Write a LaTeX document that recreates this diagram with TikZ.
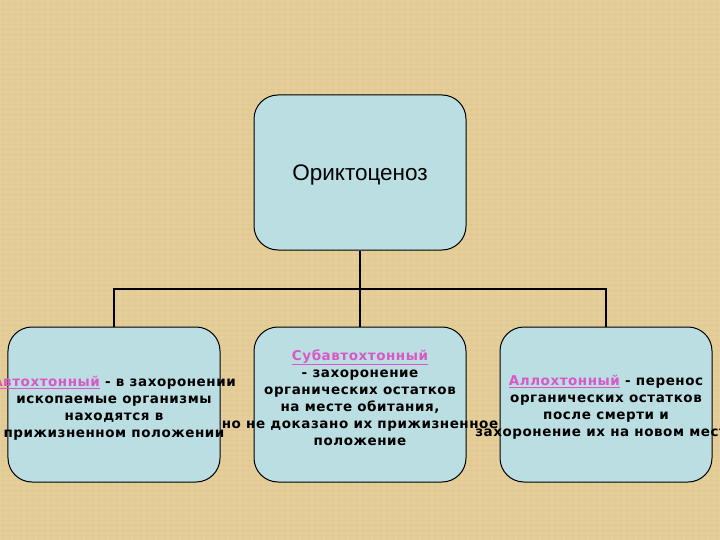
\documentclass[tikz,border=0pt]{standalone}
\usepackage{fontspec}
\setmainfont{DejaVu Sans}
\newfontfamily\headfont{Liberation Sans}
\newfontfamily\bodyfont[LetterSpace=4]{DejaVu Sans Bold}
\usetikzlibrary{positioning}
\definecolor{bgcol}{RGB}{228,204,150}
\definecolor{boxcol}{RGB}{186,222,226}
\definecolor{pinkw}{RGB}{216,88,200}
\newcommand{\kw}[1]{\textcolor{pinkw}{\underline{#1}}}
\begin{document}
\begin{tikzpicture}[x=1bp,y=-1bp,
  card/.style={draw=black,line width=1bp,fill=boxcol,rounded corners=24bp,minimum width=212bp,minimum height=155bp,inner sep=0pt},
  bodytxt/.style={align=center,font=\bodyfont\fontsize{13.5bp}{17bp}\selectfont,text=black,inner sep=0pt},
  link/.style={draw=black,line width=1.5bp}]
\useasboundingbox (0,0) rectangle (720,540);
\fill[bgcol] (0,0) rectangle (720,540);
\foreach \i in {0,6,...,720}{\draw[white,opacity=0.07,line width=1.5bp] (\i,0) -- (\i,540);}
\foreach \j in {0,5,...,540}{\draw[brown,opacity=0.06,line width=1bp] (0,\j) -- (720,\j);}
\node[card] (top) at (360,172.5) {};
\node[card] (left) at (114,404.5) {};
\node[card] (mid) at (360,404.5) {};
\node[card] (right) at (606,404.5) {};
\node[font=\headfont\fontsize{22.5bp}{26bp}\selectfont] (toptxt) at (360,175) {Ориктоценоз};
\coordinate (bar) at (360,289);
\draw[link] (top.south) -- (bar);
\draw[link] (left.north) |- (bar) -| (right.north);
\draw[link] (bar) -- (mid.north);
\node[bodytxt] (ltxt) at (114,408) {\kw{Автохтонный} - в захоронении\\ископаемые организмы\\находятся в\\прижизненном положении};
\node[bodytxt] (mtxt) at (360,397.5) {\kw{Субавтохтонный}\\- захоронение\\органических остатков\\на месте обитания,\\но не доказано их прижизненное\\положение};
\node[bodytxt] (rtxt) at (606,407) {\kw{Аллохтонный} - перенос\\органических остатков\\после смерти и\\захоронение их на новом месте};
\end{tikzpicture}
\end{document}
